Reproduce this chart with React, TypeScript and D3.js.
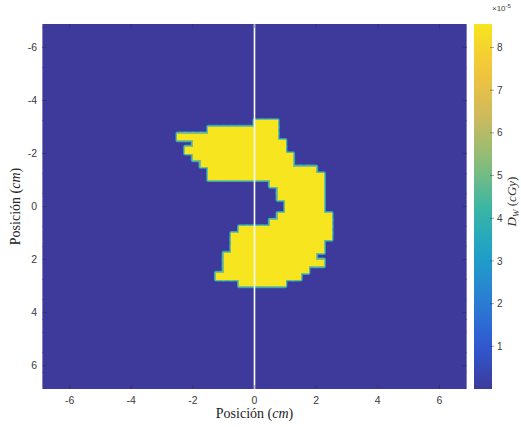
import * as d3 from 'd3'

// axis ticks (cm) and colorbar ticks (x10^-5 cGy)
const xTicks = [-6, -4, -2, 0, 2, 4, 6]
const yTicks = [-6, -4, -2, 0, 2, 4, 6]
const cbTicks = [1, 2, 3, 4, 5, 6, 7, 8]

// dose map: each row (top edge, cm) holds the dose between rowLeft and rowRight
const rowY = [-3.25, -3.0, -2.75, -2.5, -2.25, -2.0, -1.75, -1.5, -1.25, -1.0, -0.75, -0.5, -0.25,
  0, 0.25, 0.5, 0.75, 1.0, 1.25, 1.5, 1.75, 2.0, 2.25, 2.5, 2.75]
const rowLeft = [0, -1.5, -2.5, -2.0, -2.25, -2.0, -1.75, -1.5, -1.5, 0.5, 0.75, 0.75, 1.0,
  1.0, 0.75, 0.5, -0.5, -0.75, -0.75, -0.75, -1.0, -1.0, -1.0, -1.25, -0.5]
const rowRight = [0.75, 0.75, 0.75, 1.0, 1.0, 1.25, 1.25, 2.0, 2.25, 2.25, 2.25, 2.25, 2.25,
  2.25, 2.5, 2.5, 2.5, 2.5, 2.25, 2.25, 2.0, 2.25, 1.75, 1.5, 1.0]
const doseMax = 8.55 // x10^-5
const gridStep = 0.25
const gridMin = -7
const gridMax = 7

// parula-like colormap
const parula = ['#3d3a9c', '#2f5bd4', '#2a80d2', '#1ea2c8', '#3cb6a2', '#8bbd78', '#cfba5c', '#f3c53a', '#f6e51f']

const W = 521
const H = 427
const plot = { left: 42.5, right: 466.5, top: 24, bottom: 389 }
const cb = { left: 474, right: 492 }

export default function App() {
  const x = d3.scaleLinear().domain([-6.88, 6.88]).range([plot.left, plot.right])
  const y = d3.scaleLinear().domain([-6.88, 6.88]).range([plot.top, plot.bottom])
  const cbY = d3.scaleLinear().domain([0, doseMax]).range([plot.bottom, plot.top])
  const color = d3.scaleLinear<string>()
    .domain(d3.range(parula.length).map(i => (i / (parula.length - 1)) * doseMax))
    .range(parula)
    .interpolate(d3.interpolateRgb)

  const n = Math.round((gridMax - gridMin) / gridStep)
  const cells: { x0: number, y0: number, v: number }[] = []
  for (let iy = 0; iy < n; iy++) {
    const y0 = gridMin + iy * gridStep
    const r = rowY.findIndex(v => Math.abs(v - y0) < 1e-6)
    for (let ix = 0; ix < n; ix++) {
      const x0 = gridMin + ix * gridStep
      const hot = r >= 0 && x0 >= rowLeft[r] - 1e-6 && x0 < rowRight[r] - 1e-6
      cells.push({ x0, y0, v: hot ? doseMax : 0 })
    }
  }
  const hotCells = cells.filter(d => d.v > 0)
  const cw = x(gridStep) - x(0)
  const ch = y(gridStep) - y(0)

  const stops = d3.range(0, 1.0001, 0.05)

  return (
    <svg width={W} height={H} style={{ position: 'absolute', left: 0, top: 0, background: '#fff' }}
      fontFamily="'Liberation Sans', Arial, sans-serif">
      <defs>
        <clipPath id="plotClip">
          <rect x={plot.left} y={plot.top} width={plot.right - plot.left} height={plot.bottom - plot.top} />
        </clipPath>
        <linearGradient id="cbGrad" x1="0" y1="1" x2="0" y2="0">
          {stops.map(t => <stop key={t} offset={t} stopColor={color(t * doseMax)} />)}
        </linearGradient>
      </defs>

      <g clipPath="url(#plotClip)">
        <rect x={plot.left} y={plot.top} width={plot.right - plot.left} height={plot.bottom - plot.top} fill={color(0)} />
        <g shapeRendering="crispEdges">
          {cells.filter(d => d.v === 0).map((d, i) => (
            <rect key={i} x={x(d.x0)} y={y(d.y0)} width={cw + 0.3} height={ch + 0.3} fill={color(d.v)} />
          ))}
        </g>
        {hotCells.map((d, i) => (
          <rect key={'a' + i} x={x(d.x0)} y={y(d.y0)} width={cw} height={ch}
            fill="none" stroke={color(doseMax * 0.38)} strokeWidth={4.2} strokeLinejoin="round" />
        ))}
        {hotCells.map((d, i) => (
          <rect key={'b' + i} x={x(d.x0)} y={y(d.y0)} width={cw} height={ch}
            fill="none" stroke={color(doseMax * 0.62)} strokeWidth={2.4} strokeLinejoin="round" />
        ))}
        <g shapeRendering="crispEdges">
          {hotCells.map((d, i) => (
            <rect key={'c' + i} x={x(d.x0)} y={y(d.y0)} width={cw + 0.3} height={ch + 0.3} fill={color(d.v)} />
          ))}
        </g>
        <line x1={x(0)} x2={x(0)} y1={plot.top} y2={plot.bottom} stroke="#fff" strokeWidth={1.6} />
      </g>

      {/* inward ticks */}
      <g stroke="#262626" strokeWidth={0.6} opacity={0.6}>
        {xTicks.map(t => (
          <g key={'x' + t}>
            <line x1={x(t)} x2={x(t)} y1={plot.bottom} y2={plot.bottom - 4} />
            <line x1={x(t)} x2={x(t)} y1={plot.top} y2={plot.top + 4} />
          </g>
        ))}
        {yTicks.map(t => (
          <g key={'y' + t}>
            <line x1={plot.left} x2={plot.left + 4} y1={y(t)} y2={y(t)} />
            <line x1={plot.right} x2={plot.right - 4} y1={y(t)} y2={y(t)} />
          </g>
        ))}
      </g>

      {/* tick labels */}
      <g fontSize={10.5} fill="#3a3a3a">
        {xTicks.map(t => (
          <text key={'xl' + t} x={x(t)} y={404} textAnchor="middle">{t}</text>
        ))}
        {yTicks.map(t => (
          <text key={'yl' + t} x={37} y={y(t) + 3.8} textAnchor="end">{t}</text>
        ))}
      </g>

      {/* axis labels */}
      <text x={x(0)} y={418} textAnchor="middle" fontFamily="'Liberation Serif', 'DejaVu Serif', serif" fontSize={14} fill="#222">
        Posición (<tspan fontStyle="italic">cm</tspan>)
      </text>
      <text transform={`translate(20,${y(0)}) rotate(-90)`} textAnchor="middle"
        fontFamily="'Liberation Serif', 'DejaVu Serif', serif" fontSize={14} fill="#222">
        Posición (<tspan fontStyle="italic">cm</tspan>)
      </text>

      {/* colorbar */}
      <rect x={cb.left} y={plot.top} width={cb.right - cb.left} height={plot.bottom - plot.top} fill="url(#cbGrad)" />
      <g stroke="#262626" strokeWidth={0.6} opacity={0.7}>
        {cbTicks.map(t => (
          <line key={'cbt' + t} x1={cb.right - 2} x2={cb.right + 2} y1={cbY(t)} y2={cbY(t)} />
        ))}
      </g>
      <g fontSize={10} fill="#3a3a3a">
        {cbTicks.map(t => (
          <text key={'cbl' + t} x={497} y={cbY(t) + 3.6}>{t}</text>
        ))}
      </g>
      <text x={492} y={11} fontSize={8} fill="#3a3a3a">×10<tspan dy={-3} fontSize={6}>-5</tspan></text>
      <text transform={`translate(516,${cbY(doseMax / 2) - 5}) rotate(-90)`} textAnchor="middle"
        fontFamily="'Liberation Serif', 'DejaVu Serif', serif" fontSize={13} fill="#333">
        <tspan fontStyle="italic">D</tspan><tspan fontStyle="italic" fontSize={9} dy={3}>W</tspan>
        <tspan dy={-3}> (</tspan><tspan fontStyle="italic">cGy</tspan>)
      </text>
    </svg>
  )
}
